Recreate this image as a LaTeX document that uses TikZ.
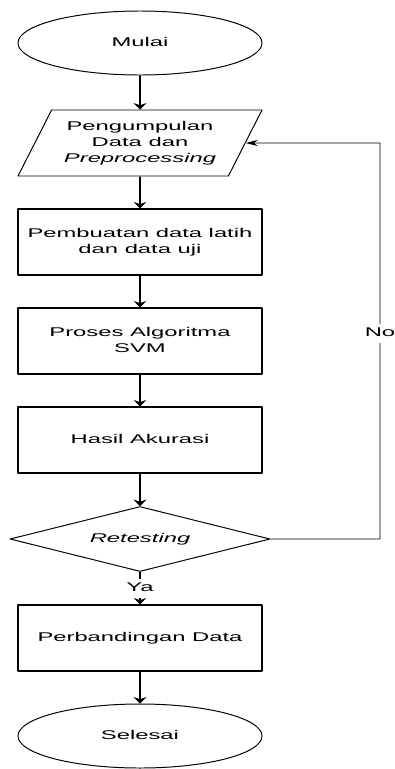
\documentclass[tikz,border=0pt]{standalone}
\usepackage{graphicx}
\usepackage{fontspec}
\setmainfont{Liberation Sans}
\usetikzlibrary{shapes.geometric,arrows.meta}
\newcommand{\wtxt}[1]{\scalebox{1.88}[1]{\begin{tabular}{@{}c@{}}#1\end{tabular}}}
\tikzset{
	term/.style={ellipse, draw, line width=0.7pt, minimum width=61mm, minimum height=16mm, inner sep=0pt},
	box/.style={rectangle, draw, line width=0.8pt, minimum width=61mm, minimum height=16.5mm, inner sep=0pt},
	io/.style={trapezium, trapezium left angle=59, trapezium right angle=121, trapezium stretches=true, draw, line width=0.7pt, minimum width=61mm, minimum height=16.5mm, inner sep=0pt},
	decide/.style={diamond, aspect=4, draw, line width=0.7pt, minimum width=65mm, minimum height=16.25mm, inner sep=0pt},
	flow/.style={-{Stealth[length=1.6mm,width=3.2mm]}, line width=1.1pt},
	loop/.style={-{Stealth[length=3mm,width=1.5mm]}, line width=0.7pt},
	lbl/.style={fill=white, inner sep=1pt}
}
\begin{document}
\begin{tikzpicture}[x=0.25mm, y=-0.25mm, font=\fontsize{9pt}{11.4pt}\selectfont, line join=round]
	\useasboundingbox (0,0) rectangle (394,769);
	\node[term] (mulai) at (140,43) {\wtxt{Mulai}};
	\node[io] (prep) at (140,143) {\wtxt{Pengumpulan\\Data dan\\\textit{Preprocessing}}};
	\node[box] (latih) at (140,242) {\wtxt{Pembuatan data latih\\dan data uji}};
	\node[box] (svm) at (140,341) {\wtxt{Proses Algoritma\\SVM}};
	\node[box] (akurasi) at (140,440) {\wtxt{Hasil Akurasi}};
	\node[decide] (retest) at (140,539) {\wtxt{\textit{Retesting}}};
	\node[box] (banding) at (140,638) {\wtxt{Perbandingan Data}};
	\node[term] (selesai) at (140,736) {\wtxt{Selesai}};
	\coordinate (fb) at (380,143);
	\draw[flow] (mulai) -- (prep);
	\draw[flow] (prep) -- (latih);
	\draw[flow] (latih) -- (svm);
	\draw[flow] (svm) -- (akurasi);
	\draw[flow] (akurasi) -- (retest);
	\draw[flow] (retest) -- node[lbl] {\wtxt{Ya}} (banding);
	\draw[flow] (banding) -- (selesai);
	\draw[loop] (retest.east) -| node[lbl, pos=0.76] {\wtxt{No}} (fb) -- (prep);
\end{tikzpicture}
\end{document}
